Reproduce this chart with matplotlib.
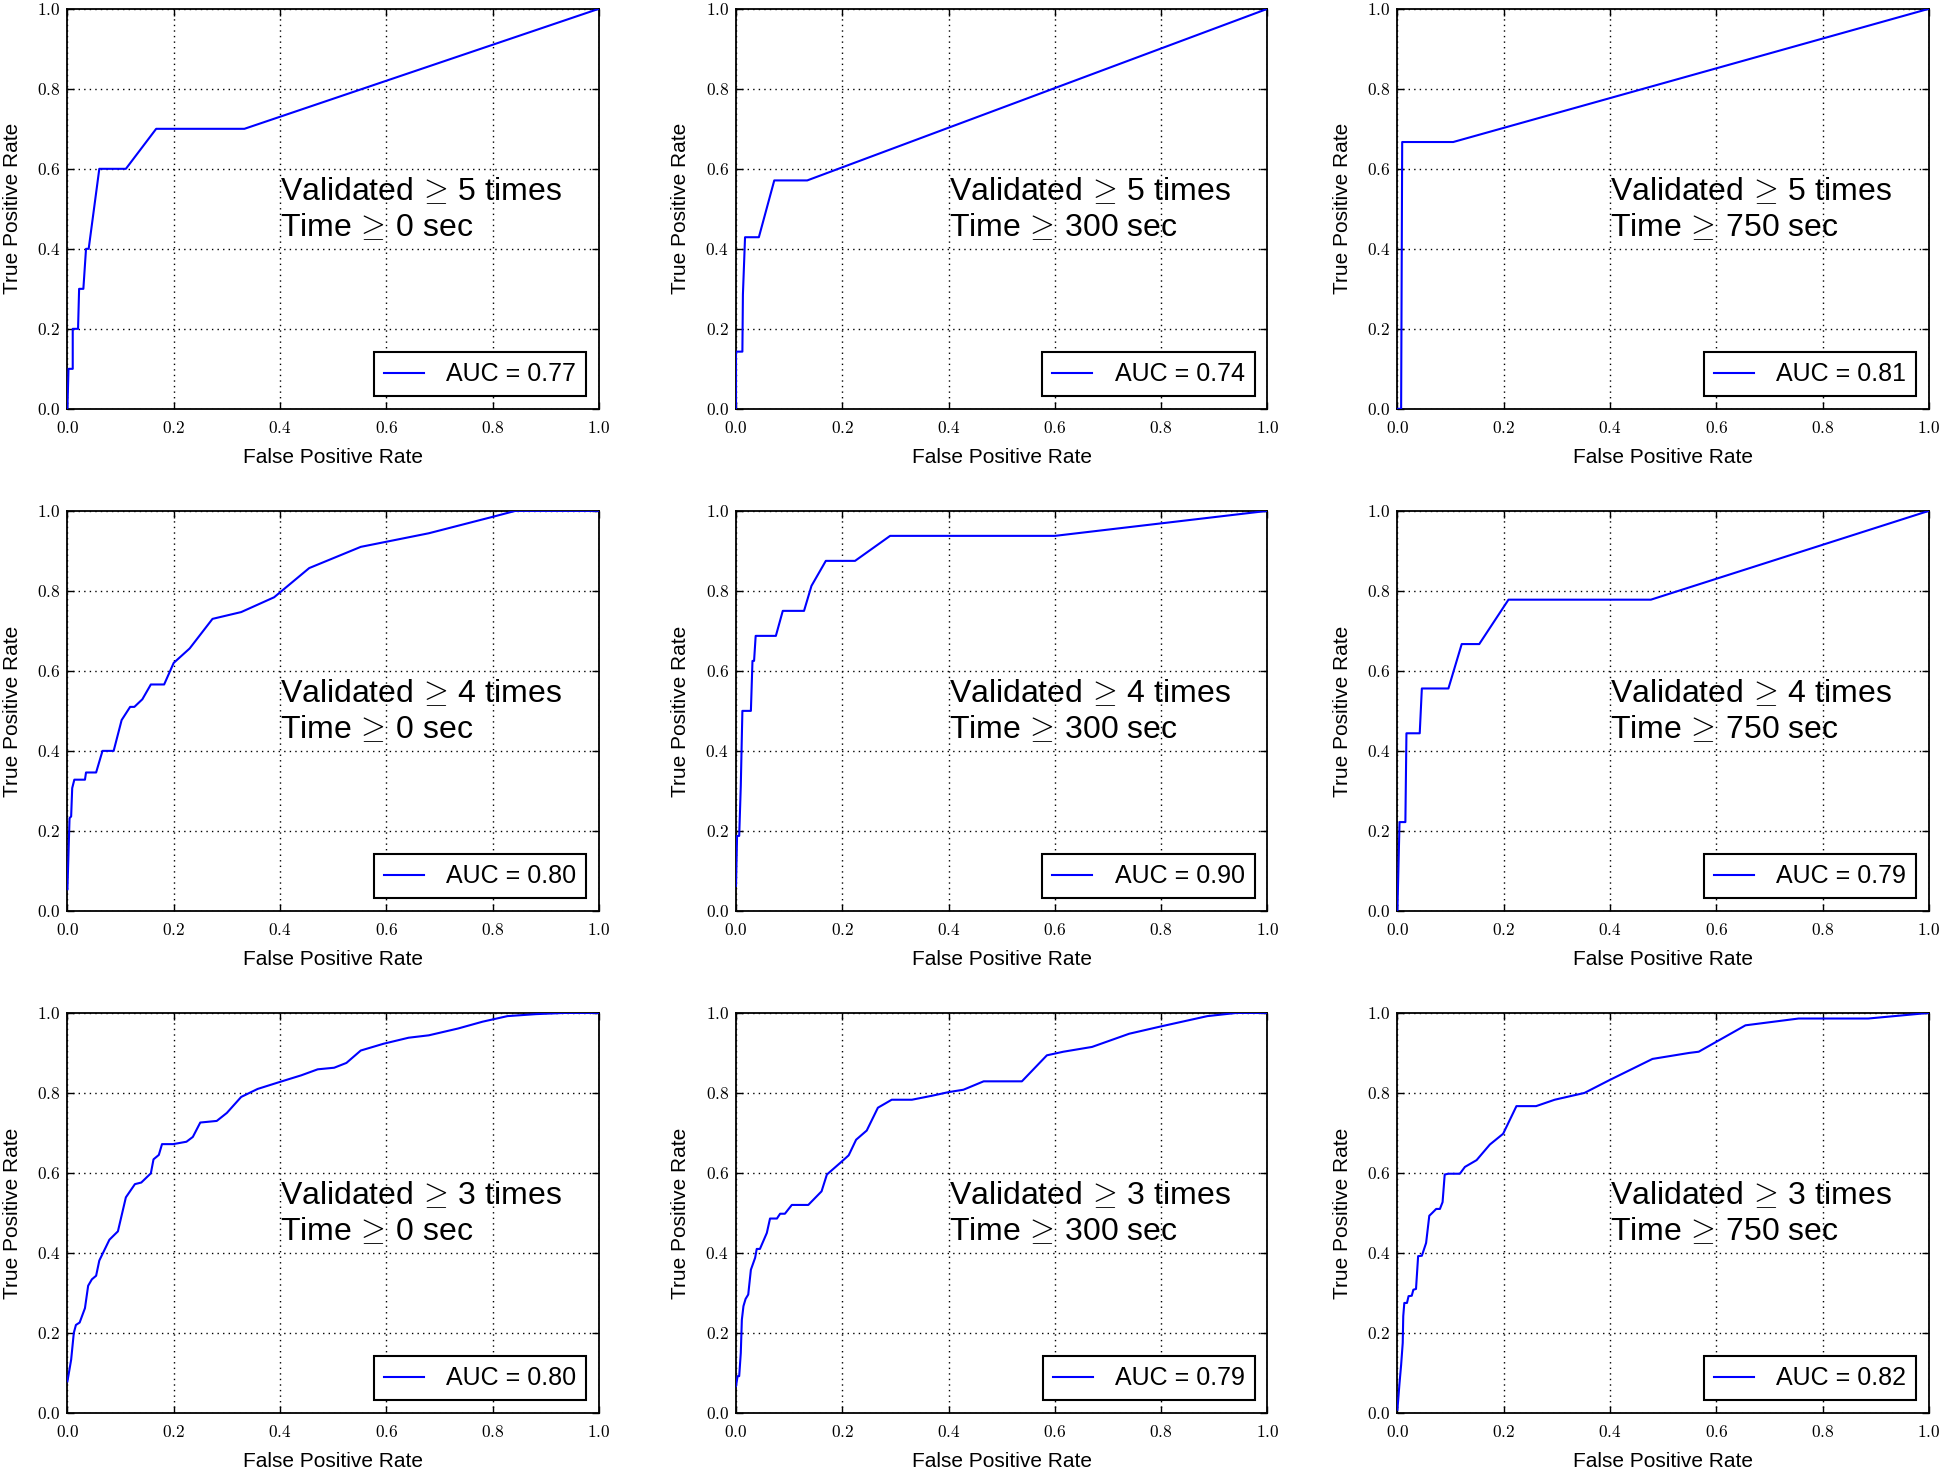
import matplotlib
matplotlib.use("Agg")
import matplotlib.pyplot as plt
from matplotlib.ticker import FuncFormatter, FixedLocator

plt.rcParams['font.family'] = ['Liberation Sans', 'DejaVu Sans']
plt.rcParams['mathtext.fontset'] = 'cm'

# ---------------- data ----------------
validated_counts = [5, 5, 5, 4, 4, 4, 3, 3, 3]
time_thresholds = [0, 300, 750, 0, 300, 750, 0, 300, 750]
auc_values = [0.77, 0.74, 0.81, 0.80, 0.90, 0.79, 0.80, 0.79, 0.82]
tick_values = [0.0, 0.2, 0.4, 0.6, 0.8, 1.0]

fpr_v5_t0 = [0.0, 0.002, 0.01, 0.01, 0.02, 0.022, 0.03, 0.035, 0.04, 0.06, 0.11, 0.167, 0.333, 1.0]
tpr_v5_t0 = [0.0, 0.1, 0.1, 0.2, 0.2, 0.3, 0.3, 0.4, 0.4, 0.6, 0.6, 0.7, 0.7, 1.0]

fpr_v5_t300 = [0.0, 0.0, 0.012, 0.013, 0.017, 0.043, 0.072, 0.134, 1.0]
tpr_v5_t300 = [0.0, 0.143, 0.143, 0.286, 0.429, 0.429, 0.571, 0.571, 1.0]

fpr_v5_t750 = [0.0, 0.007, 0.008, 0.009, 0.105, 1.0]
tpr_v5_t750 = [0.0, 0.0, 0.333, 0.667, 0.667, 1.0]

fpr_v4_t0 = [0.0, 0.004, 0.007, 0.009, 0.013, 0.033, 0.035, 0.054, 0.066, 0.087, 0.102, 0.118, 0.126,
             0.141, 0.157, 0.182, 0.2, 0.23, 0.273, 0.327, 0.389, 0.455, 0.552, 0.68, 0.80, 0.843, 1.0]
tpr_v4_t0 = [0.054, 0.232, 0.236, 0.307, 0.328, 0.328, 0.346, 0.346, 0.40, 0.40, 0.477, 0.51, 0.51,
             0.529, 0.566, 0.566, 0.62, 0.656, 0.73, 0.747, 0.784, 0.857, 0.91, 0.944, 0.985, 1.0, 1.0]

fpr_v4_t300 = [0.0, 0.002, 0.006, 0.009, 0.012, 0.028, 0.031, 0.034, 0.037, 0.075, 0.088, 0.128,
               0.142, 0.169, 0.224, 0.29, 0.60, 1.0]
tpr_v4_t300 = [0.0625, 0.1875, 0.1875, 0.3125, 0.5, 0.5, 0.625, 0.625, 0.6875, 0.6875, 0.75, 0.75,
               0.8125, 0.875, 0.875, 0.9375, 0.9375, 1.0]

fpr_v4_t750 = [0.0, 0.004, 0.015, 0.017, 0.042, 0.046, 0.096, 0.121, 0.154, 0.209, 0.477, 1.0]
tpr_v4_t750 = [0.0, 0.222, 0.222, 0.444, 0.444, 0.556, 0.556, 0.667, 0.667, 0.778, 0.778, 1.0]

fpr_v3_t0 = [0.0, 0.007, 0.012, 0.016, 0.023, 0.033, 0.039, 0.046, 0.054, 0.06, 0.079, 0.095, 0.11,
             0.127, 0.139, 0.157, 0.162, 0.172, 0.178, 0.199, 0.224, 0.236, 0.25, 0.281, 0.30, 0.327,
             0.358, 0.401, 0.44, 0.471, 0.502, 0.525, 0.552, 0.595, 0.642, 0.68, 0.735, 0.781, 0.828,
             0.882, 0.936, 1.0]
tpr_v3_t0 = [0.079, 0.133, 0.2, 0.22, 0.226, 0.262, 0.318, 0.334, 0.343, 0.381, 0.433, 0.454, 0.539,
             0.572, 0.576, 0.599, 0.634, 0.645, 0.672, 0.672, 0.678, 0.69, 0.726, 0.73, 0.75, 0.79,
             0.81, 0.828, 0.844, 0.859, 0.863, 0.875, 0.906, 0.923, 0.938, 0.944, 0.961, 0.978, 0.992,
             0.997, 1.0, 1.0]

fpr_v3_t300 = [0.0, 0.003, 0.006, 0.009, 0.011, 0.014, 0.018, 0.023, 0.028, 0.036, 0.039, 0.045, 0.058,
               0.064, 0.077, 0.083, 0.092, 0.105, 0.136, 0.161, 0.171, 0.196, 0.212, 0.226, 0.246,
               0.267, 0.293, 0.331, 0.369, 0.40, 0.428, 0.466, 0.538, 0.585, 0.616, 0.67, 0.74, 0.802,
               0.887, 0.942, 1.0]
tpr_v3_t300 = [0.067, 0.092, 0.092, 0.15, 0.233, 0.267, 0.285, 0.296, 0.358, 0.388, 0.41, 0.41, 0.45,
               0.486, 0.486, 0.498, 0.498, 0.52, 0.52, 0.554, 0.596, 0.625, 0.644, 0.683, 0.706,
               0.763, 0.783, 0.783, 0.793, 0.802, 0.808, 0.829, 0.829, 0.894, 0.903, 0.915, 0.948,
               0.967, 0.992, 1.0, 1.0]

fpr_v3_t750 = [0.0, 0.004, 0.007, 0.01, 0.011, 0.013, 0.018, 0.021, 0.027, 0.030, 0.035, 0.039, 0.046,
               0.054, 0.06, 0.064, 0.073, 0.08, 0.085, 0.089, 0.096, 0.1175, 0.127, 0.149, 0.174,
               0.199, 0.224, 0.261, 0.296, 0.352, 0.399, 0.48, 0.549, 0.567, 0.655, 0.755, 0.886, 1.0]
tpr_v3_t750 = [0.008, 0.075, 0.12, 0.175, 0.242, 0.275, 0.275, 0.292, 0.293, 0.308, 0.31, 0.392, 0.393,
               0.425, 0.493, 0.498, 0.51, 0.51, 0.527, 0.596, 0.598, 0.598, 0.615, 0.632, 0.671,
               0.698, 0.767, 0.767, 0.783, 0.80, 0.832, 0.885, 0.90, 0.903, 0.969, 0.986, 0.986, 1.0]

fpr_series = [fpr_v5_t0, fpr_v5_t300, fpr_v5_t750,
              fpr_v4_t0, fpr_v4_t300, fpr_v4_t750,
              fpr_v3_t0, fpr_v3_t300, fpr_v3_t750]
tpr_series = [tpr_v5_t0, tpr_v5_t300, tpr_v5_t750,
              tpr_v4_t0, tpr_v4_t300, tpr_v4_t750,
              tpr_v3_t0, tpr_v3_t300, tpr_v3_t750]

# ---------------- figure ----------------
fig = plt.figure(figsize=(19.43, 14.68), dpi=100, facecolor='white')

lefts = [0.0347, 0.3788, 0.7192]
bottoms = [0.7215, 0.3795, 0.0375]
w, h = 0.2735, 0.2725

tick_fmt = FuncFormatter(lambda v, p: r'$%.1f$' % v)

for i in range(9):
    r, c = divmod(i, 3)
    ax = fig.add_axes([lefts[c], bottoms[r], w, h])
    ax.plot(fpr_series[i], tpr_series[i], color='b', lw=1.5,
            label='AUC = %.2f' % auc_values[i], zorder=3)
    ax.set_xlim(0, 1)
    ax.set_ylim(0, 1)
    ax.xaxis.set_major_locator(FixedLocator(tick_values))
    ax.yaxis.set_major_locator(FixedLocator(tick_values))
    ax.xaxis.set_major_formatter(tick_fmt)
    ax.yaxis.set_major_formatter(tick_fmt)
    ax.tick_params(direction='in', top=True, right=True, length=5, width=1,
                   labelsize=12.5, colors='k')
    ax.tick_params(axis='x', pad=8)
    ax.tick_params(axis='y', pad=5)
    ax.grid(True, color='k', linestyle=(0, (1, 3)), linewidth=1.0)
    for s in ax.spines.values():
        s.set_linewidth(1.3)
        s.set_color('k')
    ax.set_xlabel('False Positive Rate', fontsize=15, labelpad=8.5)
    ax.set_ylabel('True Positive Rate', fontsize=15, labelpad=11)
    ax.text(0.40, 0.4325,
            'Validated $\\!\\geq\\!$ %d times\nTime $\\!\\geq\\!$ %d sec'
            % (validated_counts[i], time_thresholds[i]),
            fontsize=23, ha='left', va='baseline', linespacing=1.2)
    leg = ax.legend(loc='lower right', fontsize=18, handlelength=1.6, handletextpad=0.9,
                    borderpad=0.4, borderaxespad=0.5, fancybox=False, framealpha=1,
                    edgecolor='k')
    leg.get_frame().set_linewidth(1.5)

fig.savefig('out.png', dpi=100, facecolor='white')
